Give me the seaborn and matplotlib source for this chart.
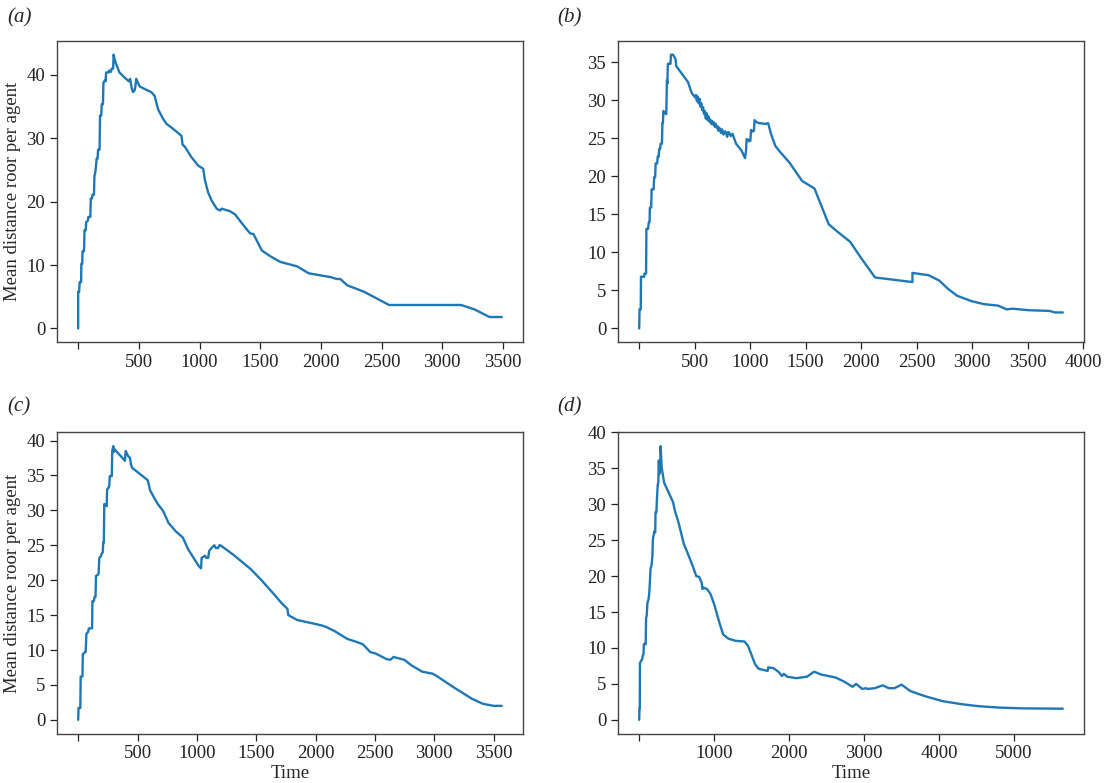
import matplotlib
matplotlib.use("Agg")
import matplotlib.pyplot as plt
import seaborn as sns

# values (time, mean distance per agent)
a_time = [0, 0, 8, 12, 24, 26, 33, 36, 48, 52, 62, 66, 80, 84, 100, 104, 114, 118, 130, 134, 140, 146,
          152, 160, 164, 176, 180, 190, 194, 204, 208, 222, 226, 230, 250, 254, 270, 275, 288, 292, 300,
          313, 340, 382, 418, 428, 440, 451, 465, 472, 478, 506, 547, 602, 630, 658, 699, 727, 782, 851,
          860, 878, 934, 989, 1030, 1044, 1070, 1099, 1141, 1170, 1182, 1251, 1292, 1361, 1416, 1444,
          1513, 1582, 1665, 1803, 1899, 2079, 2130, 2160, 2217, 2354, 2561, 3155, 3265, 3389, 3490]
a_dist = [0, 5.8, 5.8, 7.3, 7.3, 10.2, 10.2, 12.2, 12.2, 15.5, 15.5, 16.8, 17.0, 17.6, 17.6, 20.5, 20.5,
          21.1, 21.1, 24.1, 24.5, 25.5, 26.8, 26.8, 28.2, 28.2, 33.6, 33.6, 35.4, 35.4, 38.8, 39.2, 39.0,
          40.4, 40.4, 40.7, 40.5, 41.0, 41.0, 43.2, 42.5, 41.7, 40.4, 39.6, 39.0, 39.4, 38.0, 37.3, 37.6,
          38.3, 39.4, 38.2, 37.8, 37.3, 36.7, 34.6, 33.1, 32.3, 31.5, 30.4, 29.0, 28.7, 27.0, 25.7, 25.2,
          23.4, 21.5, 20.2, 18.9, 18.6, 18.9, 18.5, 18.0, 16.3, 15.0, 14.9, 12.3, 11.4, 10.5, 9.8, 8.7,
          8.1, 7.8, 7.8, 6.8, 5.8, 3.7, 3.7, 3.0, 1.8, 1.8]

b_time = [0, 3, 14, 16, 45, 47, 62, 65, 80, 87, 94, 96, 108, 112, 130, 135, 144, 148, 162, 167, 176,
          180, 189, 193, 205, 209, 214, 218, 240, 244, 250, 254, 258, 268, 282, 286, 305, 328, 334, 440,
          472, 504, 512, 520, 528, 536, 545, 552, 560, 568, 576, 584, 592, 600, 608, 616, 624, 632, 640,
          649, 658, 666, 674, 682, 690, 698, 706, 713, 722, 730, 737, 745, 753, 760, 768, 777, 785, 793,
          800, 809, 825, 841, 873, 922, 954, 963, 968, 985, 990, 1002, 1008, 1025, 1034, 1040, 1060,
          1082, 1140, 1162, 1190, 1227, 1259, 1355, 1468, 1580, 1708, 1789, 1901, 1998, 2126, 2463, 2463,
          2608, 2704, 2784, 2865, 2993, 3105, 3234, 3314, 3362, 3507, 3699, 3748, 3818]
b_dist = [0, 2.5, 2.5, 6.8, 6.8, 7.2, 7.2, 13.1, 13.1, 14.0, 14.0, 15.9, 15.9, 18.3, 18.3, 19.9, 19.9,
          21.7, 21.7, 22.6, 22.6, 23.6, 23.6, 24.3, 24.3, 27.0, 27.0, 28.6, 28.2, 28.2, 32.6, 32.2, 34.8,
          34.8, 34.8, 36.0, 36.0, 35.4, 34.5, 32.4, 31.0, 30.4, 30.7, 29.9, 30.5, 29.6, 30.2, 29.2, 29.6,
          28.7, 29.1, 28.2, 28.6, 27.6, 28.3, 27.4, 27.9, 27.2, 27.5, 26.9, 27.3, 26.8, 27.1, 26.5, 26.9,
          26.4, 26.6, 26.0, 26.4, 26.1, 25.7, 26.2, 25.9, 25.5, 25.9, 25.9, 25.6, 25.2, 25.8, 25.8, 25.3,
          25.6, 24.3, 23.4, 22.4, 23.4, 24.9, 24.8, 24.6, 24.7, 26.1, 25.9, 26.0, 27.4, 27.1, 27.0, 26.9,
          27.0, 25.5, 24.0, 23.4, 21.8, 19.4, 18.4, 13.7, 12.7, 11.4, 9.3, 6.7, 6.1, 7.3, 7.0, 6.3, 5.2,
          4.3, 3.6, 3.2, 3.0, 2.5, 2.6, 2.4, 2.3, 2.1, 2.1]

c_time = [0, 3, 18, 21, 36, 39, 58, 63, 69, 84, 90, 117, 120, 132, 138, 146, 150, 168, 172, 178, 190,
          199, 207, 211, 216, 220, 235, 240, 244, 258, 262, 266, 283, 287, 296, 302, 310, 325, 394, 400,
          420, 436, 445, 454, 521, 587, 605, 640, 671, 716, 761, 822, 882, 927, 987, 1017, 1035, 1040,
          1068, 1080, 1095, 1104, 1128, 1147, 1160, 1177, 1190, 1198, 1303, 1453, 1544, 1649, 1709, 1763,
          1770, 1845, 1980, 2055, 2090, 2161, 2266, 2356, 2400, 2461, 2506, 2597, 2630, 2657, 2747, 2808,
          2898, 2988, 3018, 3169, 3319, 3409, 3500, 3569]
c_dist = [0, 1.7, 1.7, 6.2, 6.2, 9.4, 9.7, 9.7, 12.3, 12.6, 13.1, 13.1, 17.0, 17.0, 17.6, 17.6, 20.6,
          20.8, 21.0, 23.2, 23.4, 23.8, 24.0, 25.4, 25.4, 30.9, 30.7, 30.6, 33.0, 33.3, 33.5, 34.9, 34.9,
          38.5, 39.2, 38.4, 38.7, 38.4, 37.1, 38.5, 37.8, 37.5, 36.6, 36.1, 35.2, 34.3, 32.9, 31.8, 30.9,
          29.9, 28.2, 27.0, 26.1, 24.4, 22.8, 22.0, 21.7, 23.2, 23.5, 23.2, 23.2, 24.2, 24.7, 25.0, 24.6,
          24.6, 25.0, 25.0, 23.7, 21.6, 20.0, 18.0, 16.8, 15.9, 15.0, 14.3, 13.8, 13.5, 13.3, 12.7, 11.6,
          11.1, 10.8, 9.7, 9.5, 8.7, 8.6, 9.0, 8.6, 7.8, 6.9, 6.6, 6.3, 4.6, 3.0, 2.3, 2.0, 2.0]

d_time = [0, 3, 8, 10, 30, 38, 50, 57, 62, 80, 86, 92, 100, 110, 125, 133, 142, 152, 165, 176, 182,
          190, 205, 214, 218, 229, 238, 248, 255, 262, 268, 275, 280, 286, 300, 333, 381, 452, 476, 524,
          595, 643, 714, 762, 800, 833, 845, 857, 905, 952, 1000, 1071, 1119, 1190, 1286, 1405, 1452,
          1548, 1595, 1714, 1722, 1790, 1857, 1905, 1929, 1976, 2095, 2238, 2333, 2429, 2619, 2738, 2848,
          2895, 2976, 3024, 3048, 3143, 3248, 3333, 3405, 3500, 3619, 3810, 4048, 4286, 4524, 4810, 5095,
          5652]
d_dist = [0, 1.6, 1.6, 7.9, 8.3, 8.4, 9.0, 9.1, 10.5, 10.6, 10.5, 14.2, 14.5, 16.3, 16.8, 17.5, 19.0,
          21.1, 21.5, 22.8, 25.0, 25.6, 26.3, 26.1, 28.9, 28.9, 31.0, 32.8, 33.0, 36.1, 34.2, 35.5, 34.8,
          38.1, 35.1, 33.0, 31.9, 30.3, 29.1, 27.5, 24.5, 23.3, 21.4, 20.0, 19.9, 19.1, 18.2, 18.4, 18.2,
          17.5, 16.1, 13.5, 11.9, 11.3, 11.0, 10.9, 10.3, 7.7, 7.1, 6.8, 7.3, 7.2, 6.7, 6.1, 6.4, 6.0,
          5.8, 6.0, 6.7, 6.3, 5.9, 5.3, 4.6, 5.0, 4.3, 4.4, 4.3, 4.4, 4.8, 4.4, 4.4, 4.9, 4.0, 3.3, 2.6,
          2.2, 1.9, 1.7, 1.6, 1.55]

panel_labels = ['(a)', '(b)', '(c)', '(d)']
x_ticks = [[0, 500, 1000, 1500, 2000, 2500, 3000, 3500],
           [0, 500, 1000, 1500, 2000, 2500, 3000, 3500, 4000],
           [0, 500, 1000, 1500, 2000, 2500, 3000, 3500],
           [0, 1000, 2000, 3000, 4000, 5000]]
y_ticks = [[0, 10, 20, 30, 40],
           [0, 5, 10, 15, 20, 25, 30, 35],
           [0, 5, 10, 15, 20, 25, 30, 35, 40],
           [0, 5, 10, 15, 20, 25, 30, 35, 40]]

sns.set_style('ticks')
plt.rcParams['font.family'] = ['Liberation Serif', 'DejaVu Serif']
plt.rcParams['font.size'] = 13.5

fig, axes = plt.subplots(2, 2, figsize=(11.07, 7.83), dpi=100)
plt.subplots_adjust(left=0.0515, right=0.9792, top=0.9476, bottom=0.0632, wspace=0.204, hspace=0.30)

series = [(a_time, a_dist), (b_time, b_dist), (c_time, c_dist), (d_time, d_dist)]
for i, ax in enumerate(axes.flat):
    t, d = series[i]
    sns.lineplot(x=t, y=d, ax=ax, estimator=None, sort=False, color='#1f77b4', linewidth=1.7)
    ax.set_xticks(x_ticks[i], [''] + [str(v) for v in x_ticks[i][1:]])
    ax.set_yticks(y_ticks[i], [str(v) for v in y_ticks[i]])
    ax.tick_params(labelsize=13.5, length=5, width=0.9, colors='#222222')
    for s in ax.spines.values():
        s.set_color('#444444')
        s.set_linewidth(1.0)
    ax.set_xlabel('')
    ax.set_ylabel('')

axes[0, 0].set_ylabel('Mean distance roor per agent', fontsize=13.5)
axes[1, 0].set_ylabel('Mean distance roor per agent', fontsize=13.5)
axes[1, 0].set_xlabel('Time', fontsize=13.5, labelpad=2)
axes[1, 1].set_xlabel('Time', fontsize=13.5, labelpad=2)

label_pos = [(7, 18), (557, 18), (7, 407), (557, 407)]
for lab, (px, py) in zip(panel_labels, label_pos):
    fig.text(px / 1107, 1 - py / 783, lab, ha='left', va='center', fontsize=15, style='italic')

fig.savefig('out.png', dpi=100)
